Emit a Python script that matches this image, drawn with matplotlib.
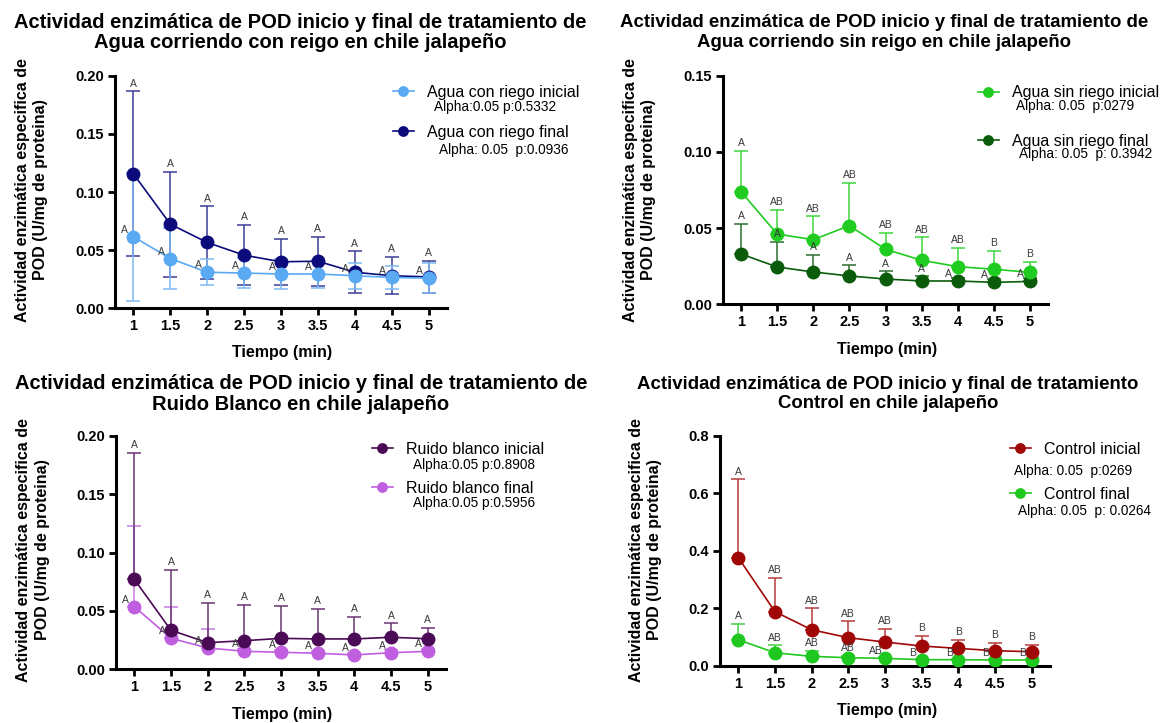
import numpy as np
import matplotlib
matplotlib.use('Agg')
import matplotlib.pyplot as plt

plt.rcParams['font.family'] = ['Liberation Sans', 'DejaVu Sans']

W, H = 1171, 723

tiempo = [1, 1.5, 2, 2.5, 3, 3.5, 4, 4.5, 5]
tick_labels = ['1', '1.5', '2', '2.5', '3', '3.5', '4', '4.5', '5']

# agua con riego
cr_ini = [0.0615, 0.0428, 0.0310, 0.0303, 0.0295, 0.0295, 0.0280, 0.0265, 0.0259]
cr_ini_sd = [0.055, 0.026, 0.011, 0.013, 0.013, 0.012, 0.011, 0.010, 0.013]
cr_fin = [0.1156, 0.0723, 0.0566, 0.0457, 0.0400, 0.0405, 0.0310, 0.0280, 0.0270]
cr_fin_sd = [0.071, 0.045, 0.031, 0.026, 0.020, 0.021, 0.018, 0.016, 0.014]

# agua sin riego
sr_ini = [0.0739, 0.0461, 0.0424, 0.0516, 0.0361, 0.0289, 0.0247, 0.0230, 0.0210]
sr_ini_sd = [0.027, 0.016, 0.0153, 0.028, 0.011, 0.015, 0.0125, 0.012, 0.007]
sr_fin = [0.0330, 0.0245, 0.0212, 0.0186, 0.0166, 0.0153, 0.0153, 0.0144, 0.0150]
sr_fin_sd = [0.020, 0.0165, 0.011, 0.007, 0.005, 0.003, 0.002, 0.002, 0.002]

# ruido blanco
rb_ini = [0.0770, 0.0334, 0.0228, 0.0245, 0.0265, 0.0260, 0.0260, 0.0274, 0.0262]
rb_ini_sd = [0.108, 0.052, 0.034, 0.0305, 0.028, 0.0256, 0.0188, 0.012, 0.0094]
rb_fin = [0.0536, 0.0265, 0.0183, 0.0154, 0.0146, 0.0137, 0.0123, 0.0142, 0.0154]
rb_fin_sd = [0.069, 0.0265, 0.016, 0.002, 0.002, 0.002, 0.002, 0.002, 0.002]

# control
ct_ini = [0.3757, 0.1878, 0.1250, 0.0974, 0.0823, 0.0684, 0.0603, 0.0520, 0.0487]
ct_ini_sd = [0.272, 0.118, 0.074, 0.057, 0.045, 0.036, 0.030, 0.026, 0.023]
ct_fin = [0.0904, 0.0450, 0.0325, 0.0278, 0.0255, 0.0209, 0.0209, 0.0198, 0.0200]
ct_fin_sd = [0.056, 0.026, 0.020, 0.006, 0.004, 0.003, 0.003, 0.003, 0.003]

# letras de significancia
let_a = ['A'] * 9
let_sr = ['A', 'AB', 'AB', 'AB', 'AB', 'AB', 'AB', 'B', 'B']
let_ct = ['A', 'AB', 'AB', 'AB', 'AB', 'B', 'B', 'B', 'B']

ylabel = 'Actividad enzimática especifica de\nPOD (U/mg de proteina)'


def px_box(l, t, r, b):
    return [l / W, 1 - b / H, (r - l) / W, (b - t) / H]


def fx(x):
    return x / W


def fy(y):
    return 1 - y / H


def put_letters(ax, ys, sds, letters, modes):
    for x, y, sd, s, m in zip(tiempo, ys, sds, letters, modes):
        if m == 't':
            ax.annotate(s, (x, y + sd), xytext=(0, 2), textcoords='offset points',
                        ha='center', va='bottom', fontsize=7.5, color='#3a3a3a')
        else:
            ax.annotate(s, (x, y), xytext=(-6.5, 5), textcoords='offset points',
                        ha='center', va='center', fontsize=7.5, color='#3a3a3a')


def panel(box, series, ylim, yticks, yfmt, both=False):
    ax = fig.add_axes(px_box(*box))
    handles = []
    for ys, sds, col, ecol, lab in series:
        if both:
            yerr = sds
        else:
            yerr = [np.zeros(len(sds)), sds]
        ax.errorbar(tiempo, ys, yerr=yerr, fmt='none', ecolor=ecol, elinewidth=1.1,
                    capsize=5, capthick=1.1, zorder=2)
        ln, = ax.plot(tiempo, ys, '-o', color=col, lw=1.2, markersize=9, zorder=3,
                      label=lab)
        handles.append(ln)
    ax.set_xlim(0.75, 5.25)
    ax.set_ylim(*ylim)
    ax.set_xticks(tiempo)
    ax.set_xticklabels(tick_labels)
    ax.set_yticks(yticks)
    ax.set_yticklabels([yfmt % v for v in yticks])
    for s in ['top', 'right']:
        ax.spines[s].set_visible(False)
    for s in ['left', 'bottom']:
        ax.spines[s].set_linewidth(2.2)
    ax.tick_params(width=2, length=5, labelsize=10.5, pad=3)
    for lb in ax.get_xticklabels() + ax.get_yticklabels():
        lb.set_fontweight('bold')
    ax.patch.set_alpha(0)
    return ax, handles


def legend(ax, handles, x, y, spacing, alphas):
    lg = ax.legend(handles=handles, loc='upper left',
                   bbox_to_anchor=(fx(x), fy(y)), bbox_transform=fig.transFigure,
                   frameon=False, fontsize=11.5, borderpad=0, borderaxespad=0,
                   handlelength=1.3, handletextpad=0.85, labelspacing=spacing,
                   markerscale=0.75)
    for ax_x, ax_y, txt in alphas:
        fig.text(fx(ax_x), fy(ax_y), txt, fontsize=9.8, ha='left', va='center')
    return lg


fig = plt.figure(figsize=(W / 100, H / 100), dpi=100)

# --- panel 1
ax1, h1 = panel((115, 75.7, 447, 308.3),
                [(cr_fin, cr_fin_sd, '#0b0b7c', '#3c3c96', 'Agua con riego final'),
                 (cr_ini, cr_ini_sd, '#5aa9f3', '#7dbaf3', 'Agua con riego inicial')],
                (0, 0.2), [0, 0.05, 0.10, 0.15, 0.20], '%.2f', both=True)
put_letters(ax1, cr_fin, cr_fin_sd, let_a, 'ttttttttt')
put_letters(ax1, cr_ini, cr_ini_sd, let_a, 'lllllllll')
legend(ax1, [h1[1], h1[0]], 393, 85, 1.55,
       [(434, 107, 'Alpha:0.05 p:0.5332'), (439, 150, 'Alpha: 0.05  p:0.0936')])

# --- panel 2
ax2, h2 = panel((723, 75.7, 1048, 304.3),
                [(sr_fin, sr_fin_sd, '#0a5c0a', '#2e6e2e', 'Agua sin riego final'),
                 (sr_ini, sr_ini_sd, '#1fcc1f', '#3dd63d', 'Agua sin riego inicial')],
                (0, 0.15), [0, 0.05, 0.10, 0.15], '%.2f')
put_letters(ax2, sr_ini, sr_ini_sd, let_sr, 'ttttttttt')
put_letters(ax2, sr_fin, sr_fin_sd, let_a, 'ttttttlll')
legend(ax2, [h2[1], h2[0]], 978, 85.5, 2.1,
       [(1016, 106, 'Alpha: 0.05  p:0279'), (1019, 154, 'Alpha: 0.05  p: 0.3942')])

# --- panel 3
ax3, h3 = panel((116, 435.7, 446, 669.3),
                [(rb_fin, rb_fin_sd, '#bf5fe0', '#c77be3', 'Ruido blanco final'),
                 (rb_ini, rb_ini_sd, '#4b0a55', '#6a3572', 'Ruido blanco inicial')],
                (0, 0.2), [0, 0.05, 0.10, 0.15, 0.20], '%.2f')
put_letters(ax3, rb_ini, rb_ini_sd, let_a, 'ttttttttt')
put_letters(ax3, rb_fin, rb_fin_sd, let_a, 'lllllllll')
legend(ax3, [h3[1], h3[0]], 372, 442, 1.5,
       [(413, 465, 'Alpha:0.05 p:0.8908'), (413, 503, 'Alpha:0.05 p:0.5956')])

# --- panel 4
ax4, h4 = panel((720, 435.7, 1050, 665.7),
                [(ct_fin, ct_fin_sd, '#1ec81e', '#45d045', 'Control final'),
                 (ct_ini, ct_ini_sd, '#a00808', '#b83c3c', 'Control inicial')],
                (0, 0.8), [0, 0.2, 0.4, 0.6, 0.8], '%.1f')
put_letters(ax4, ct_ini, ct_ini_sd, let_ct, 'ttttttttt')
put_letters(ax4, ct_fin, ct_fin_sd, let_ct, 'ttttlllll')
legend(ax4, [h4[1], h4[0]], 1010, 442, 1.85,
       [(1014, 471, 'Alpha: 0.05  p:0269'), (1018, 511, 'Alpha: 0.05  p: 0.0264')])

# titulos
titles = [
    (300, 32.5, 14.5, 1.12, 'Actividad enzimática de POD inicio y final de tratamiento de\nAgua corriendo con reigo en chile jalapeño'),
    (884, 32.5, 13.4, 1.22, 'Actividad enzimática de POD inicio y final de tratamiento de\nAgua corriendo sin reigo en chile jalapeño'),
    (301, 394, 14.5, 1.12, 'Actividad enzimática de POD inicio y final de tratamiento de\nRuido Blanco en chile jalapeño'),
    (888, 394, 13.4, 1.22, 'Actividad enzimática de POD inicio y final de tratamiento\nControl en chile jalapeño'),
]
for cx, cy, fs, ls, txt in titles:
    fig.text(fx(cx), fy(cy), txt, ha='center', va='center', fontsize=fs,
             fontweight='bold', linespacing=ls)

# etiquetas de ejes
for x, y in [(32, 190), (639, 190), (33, 550), (646, 550)]:
    fig.text(fx(x), fy(y), ylabel, rotation=90, ha='center', va='center',
             fontsize=11.5, fontweight='bold', linespacing=1.25)
for x, y in [(282, 352), (887, 349), (282, 714), (887, 711)]:
    fig.text(fx(x), fy(y), 'Tiempo (min)', ha='center', va='center',
             fontsize=11.5, fontweight='bold')

fig.savefig('out.png', dpi=100)
